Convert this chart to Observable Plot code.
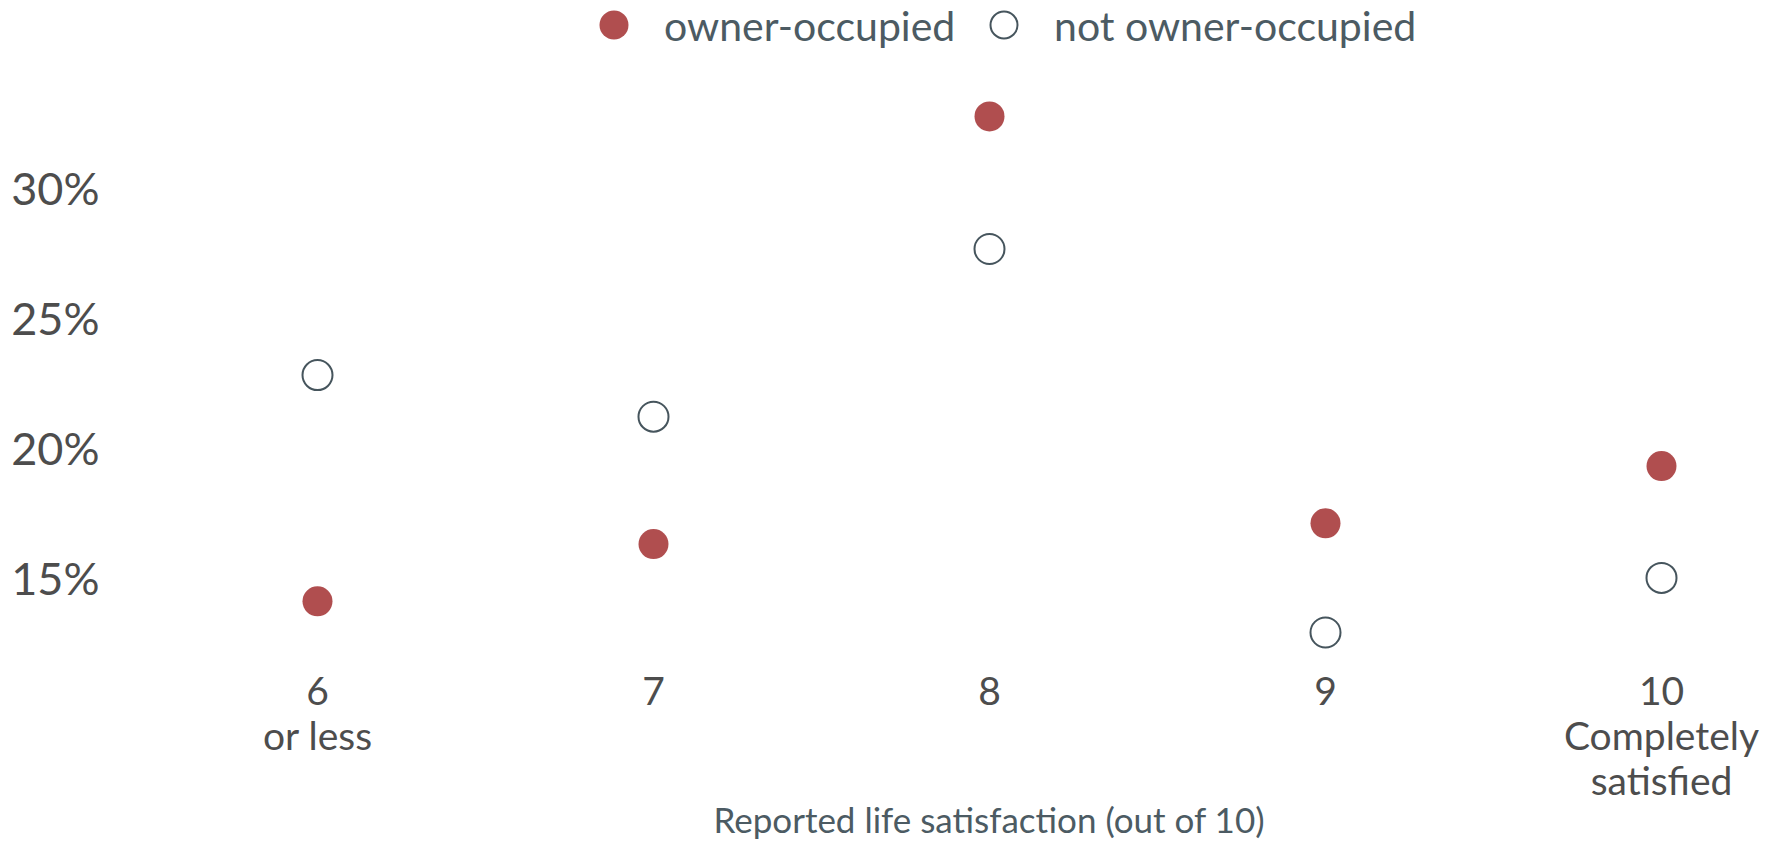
<!DOCTYPE html>
<html><head><meta charset="utf-8">
<script src="https://cdn.jsdelivr.net/npm/d3@7"></script>
<script src="https://cdn.jsdelivr.net/npm/@observablehq/plot@0.6"></script>
<style>
body{margin:0;background:#fff;font-family:Lato,sans-serif;}
#legend{position:relative;height:50px;width:1771px;}
.item{position:absolute;top:0;height:50px;display:flex;align-items:center;}
.item span{font-size:41px;color:#4c5b63;white-space:nowrap;}
#chart svg{display:block;}
</style></head><body>
<div id="legend"></div>
<div id="chart"></div>
<script>
const categories = ["6", "7", "8", "9", "10"];
const categoryLabels = ["6\nor less", "7", "8", "9", "10\nCompletely\nsatisfied"];
const seriesNames = ["owner-occupied", "not owner-occupied"];
const ownerOccupied = [14.2, 16.4, 32.85, 17.2, 19.4];
const notOwnerOccupied = [22.9, 21.3, 27.75, 13.0, 15.1];
const yTicks = [15, 20, 25, 30];
const xAxisTitle = "Reported life satisfaction (out of 10)";

const ownerColor = "#b04e4f";
const ringColor = "#46555d";

const rows = [];
categories.forEach((c, i) => {
  rows.push({cat: c, series: seriesNames[0], value: ownerOccupied[i]});
  rows.push({cat: c, series: seriesNames[1], value: notOwnerOccupied[i]});
});

// legend
const legend = document.getElementById("legend");
const legendItems = [
  {name: seriesNames[0], left: 598, filled: true},
  {name: seriesNames[1], left: 988, filled: false}
];
legendItems.forEach(it => {
  const d = document.createElement("div");
  d.className = "item";
  d.style.left = it.left + "px";
  const sw = it.filled
    ? `<svg width="32" height="32" style="margin-right:34px"><circle cx="16" cy="16" r="14.5" fill="${ownerColor}"/></svg>`
    : `<svg width="32" height="32" style="margin-right:34px"><circle cx="16" cy="16" r="13.5" fill="#fff" stroke="${ringColor}" stroke-width="2"/></svg>`;
  d.innerHTML = sw + `<span>${it.name}</span>`;
  legend.appendChild(d);
});

const chart = Plot.plot({
  width: 1771, height: 793,
  marginLeft: 316, marginRight: 110, marginTop: 36, marginBottom: 185,
  style: {fontFamily: "Lato, sans-serif", background: "#fff", overflow: "visible"},
  x: {type: "point", domain: categories, padding: 0},
  y: {domain: [12, 34]},
  marks: [
    Plot.axisY({ticks: yTicks, tickFormat: d => d + "%", tickSize: 0, tickPadding: 217, fontSize: 45, fill: "#4d4d4d", label: null}),
    Plot.axisX({tickFormat: d => categoryLabels[categories.indexOf(d)], tickSize: 0, tickPadding: 14, fontSize: 39, lineHeight: 1.16, fill: "#4d4d4d", label: null}),
    Plot.dot(rows.filter(d => d.series === seriesNames[1]), {x: "cat", y: "value", r: 15, fill: "#fff", stroke: ringColor, strokeWidth: 2}),
    Plot.dot(rows.filter(d => d.series === seriesNames[0]), {x: "cat", y: "value", r: 15, fill: ownerColor}),
    Plot.text([xAxisTitle], {frameAnchor: "bottom", dy: 163, lineAnchor: "middle", fontSize: 35, fill: "#4c5b63"})
  ]
});
document.getElementById("chart").appendChild(chart);
</script>
</body></html>
